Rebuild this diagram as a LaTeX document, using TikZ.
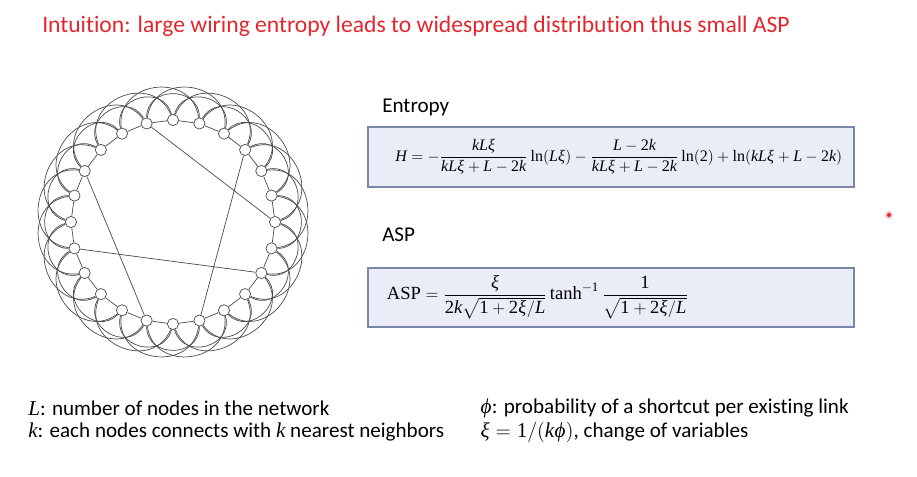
\documentclass[tikz,border=0pt]{standalone}
\usepackage{amsmath}
\usepackage{mathspec}
\setmainfont[Ligatures=NoCommon]{Carlito}
\setmathsfont(Digits,Latin,Greek){Liberation Serif}
\setmathrm{Liberation Serif}
\usepackage{tikz}
\usetikzlibrary{positioning}
\definecolor{titlered}{HTML}{E3262E}
\definecolor{boxfill}{HTML}{EAEDF8}
\definecolor{boxline}{HTML}{7A86A8}
\definecolor{wire}{HTML}{4A4A4A}
\tikzset{vtx/.style={circle, draw=wire, fill=white, inner sep=0pt, minimum size=0.28cm, line width=0.5pt},
  eqbox/.style={draw=boxline, fill=boxfill, line width=0.8pt, minimum width=12.15cm, inner sep=0pt},
  lbl/.style={anchor=west, inner sep=0pt, font=\fontsize{15}{18}\selectfont}}

\begin{document}
\begin{tikzpicture}
\useasboundingbox (0,0) rectangle (22.925,11.925);
\node[anchor=west, inner sep=0pt, text=titlered, font=\fontsize{16.8}{20}\selectfont] (title) at (1.05,11.275)
  {Intuition: large wiring entropy leads to widespread distribution thus small ASP};
% ring lattice with a few shortcuts
\foreach \i in {0,...,23}
  \node[vtx] (n\i) at ({15*\i}:2.55) [shift={(4.325,6.375)}] {};
\begin{scope}[wire, line width=0.5pt]
\foreach \i in {0,...,23}
{
  \pgfmathtruncatemacro{\k}{mod(\i+1,24)}
  \draw (n\i) -- (n\k);
  \foreach \j in {2,3}
  {
    \pgfmathtruncatemacro{\k}{mod(\i+\j,24)}
    \draw (n\i) to[bend right=90, looseness=1.55] (n\k);
  }
}
\foreach \a/\b in {7/0,3/19,10/17,13/22}
  \draw (n\a) -- (n\b);
\end{scope}
% formulas
\node[lbl] (ent) at (9.55,9.25) {Entropy};
\node[eqbox, minimum height=1.5cm] (entbox) at (15.275,8.0) {};
\node[inner sep=0pt, font=\fontsize{11.4}{14}\selectfont] (enteq) at (15.47,8.0)
  {$H=-\dfrac{kL\xi}{kL\xi+L-2k}\ln(L\xi)-\dfrac{L-2k}{kL\xi+L-2k}\ln(2)+\ln(kL\xi+L-2k)$};
\node[lbl] (asp) at (9.55,6.05) {ASP};
\node[eqbox, minimum height=1.475cm] (aspbox) at (15.275,4.4875) {};
\node[inner sep=0pt, font=\fontsize{13.2}{16}\selectfont] (aspeq) at (13.44,4.5)
  {$\mathrm{ASP}=\dfrac{\xi}{2k\sqrt{1+2\xi/L}}\tanh^{-1}\dfrac{1}{\sqrt{1+2\xi/L}}$};
% legend
\node[lbl] (defL) at (0.7,1.725) {$L$: number of nodes in the network};
\node[lbl] (defk) at (0.7,1.125) {$k$: each nodes connects with $k$ nearest neighbors};
\node[lbl] (defphi) at (12.0,1.725) {$\varphi$: probability of a shortcut per existing link};
\node[lbl] (defxi) at (12.0,1.125) {$\xi=1/(k\varphi)$, change of variables};
\fill[titlered!25] (22.225,6.55) circle (0.1);
\fill[titlered] (22.225,6.55) circle (0.05);
\end{tikzpicture}
\end{document}
